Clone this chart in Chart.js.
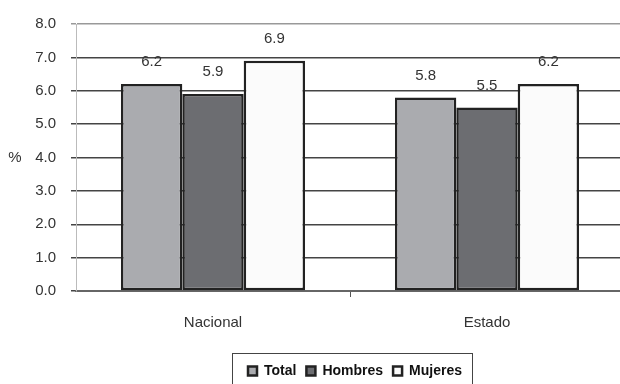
<!DOCTYPE html>
<html>
<head>
<meta charset="utf-8">
<script src="https://cdn.jsdelivr.net/npm/chart.js@4/dist/chart.umd.min.js"></script>
<style>
  html, body { margin: 0; padding: 0; background: #fff; overflow: hidden; }
  #wrap { position: relative; width: 626px; height: 400px; }
</style>
</head>
<body>
<div id="wrap"><canvas id="chart"></canvas></div>
<script>
const categories = ["Nacional", "Estado"];
const total = [6.2, 5.8];
const hombres = [5.9, 5.5];
const mujeres = [6.9, 6.2];
const yTicks = [0, 1, 2, 3, 4, 5, 6, 7, 8];

const txt = "#333";
const font = "'Liberation Sans', Arial, sans-serif";

// value labels above bars
const barLabels = {
  id: "barLabels",
  afterDatasetsDraw(chart) {
    const { ctx } = chart;
    ctx.save();
    ctx.font = "15px " + font;
    ctx.fillStyle = txt;
    ctx.textAlign = "center";
    ctx.textBaseline = "middle";
    chart.data.datasets.forEach((ds, i) => {
      chart.getDatasetMeta(i).data.forEach((bar, j) => {
        ctx.fillText(ds.data[j].toFixed(1), bar.x, bar.y - 22);
      });
    });
    ctx.restore();
  },
};

// "%" title, unrotated, plus the box around the legend
const extras = {
  id: "extras",
  afterLayout(chart) {
    const lg = chart.legend;
    lg.left += 43;
    lg.right += 43;
  },
  afterDraw(chart) {
    const { ctx } = chart;
    const y = chart.scales.y;
    ctx.save();
    ctx.font = "15px " + font;
    ctx.fillStyle = txt;
    ctx.textAlign = "center";
    ctx.textBaseline = "middle";
    ctx.fillText("%", 15, (y.top + y.bottom) / 2);

    const hb = chart.legend.legendHitBoxes;
    if (hb && hb.length) {
      const l = hb[0].left - 16;
      const r = hb[hb.length - 1].left + hb[hb.length - 1].width + 10;
      const t = hb[0].top - 11;
      ctx.strokeStyle = "#444";
      ctx.lineWidth = 1;
      ctx.strokeRect(Math.round(l) + 0.5, Math.round(t) + 0.5, Math.round(r - l), 60);
    }
    ctx.restore();
  },
};

new Chart(document.getElementById("chart"), {
  type: "bar",
  data: {
    labels: categories,
    datasets: [
      { label: "Total", data: total, backgroundColor: "#aaabaf" },
      { label: "Hombres", data: hombres, backgroundColor: "#6c6d71" },
      { label: "Mujeres", data: mujeres, backgroundColor: "#fbfbfb" },
    ].map(d => Object.assign(d, {
      borderColor: "#222",
      borderWidth: 2.5,
      borderSkipped: false,
      categoryPercentage: 0.672,
      barPercentage: 1.0,
    })),
  },
  options: {
    responsive: true,
    maintainAspectRatio: false,
    animation: false,
    layout: { padding: { left: 0, right: 2, top: 20, bottom: 12 } },
    plugins: {
      legend: {
        position: "bottom",
        labels: {
          boxWidth: 9,
          boxHeight: 9,
          padding: 10,
          color: "#111",
          font: { family: font, size: 14, weight: "bold" },
        },
      },
      tooltip: { enabled: false },
    },
    scales: {
      x: {
        afterFit: s => { s.height = 63; },
        grid: {
          drawOnChartArea: false,
          tickLength: 6,
          color: c => (c.index === 1 ? "#555" : "rgba(0,0,0,0)"),
        },
        border: { color: "#666", width: 2 },
        ticks: { color: txt, padding: 17, font: { family: font, size: 15 } },
      },
      y: {
        min: 0,
        max: 8,
        afterFit: s => { s.width = 76; },
        afterBuildTicks: s => { s.ticks = yTicks.map(v => ({ value: v })); },
        grid: {
          color: c => (c.tick && c.tick.value === 8 ? "#999" : "#444"),
          lineWidth: 1.5,
          tickLength: 5,
        },
        border: { color: "#bbb", width: 1 },
        ticks: {
          color: txt,
          padding: 15,
          font: { family: font, size: 15 },
          callback: v => v.toFixed(1),
        },
      },
    },
  },
  plugins: [barLabels, extras],
});
</script>
</body>
</html>
